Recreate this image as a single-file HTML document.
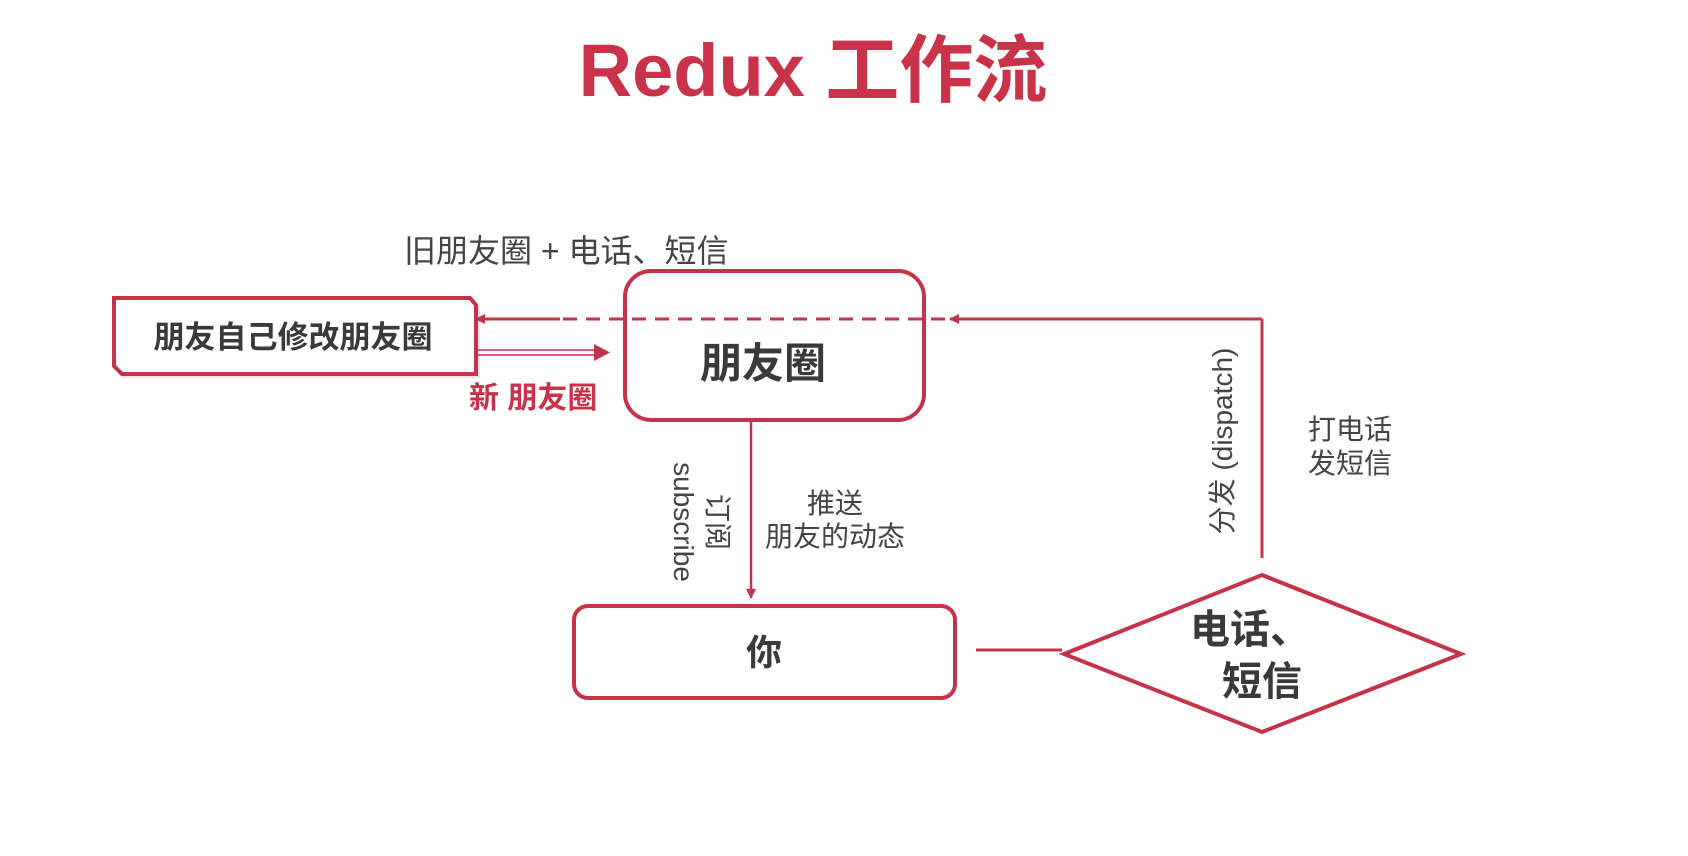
<!DOCTYPE html>
<html><head><meta charset="utf-8"><style>
html,body{margin:0;padding:0;background:#fff;}
svg{display:block;}
text{font-family:"Liberation Sans","Noto Sans CJK SC",sans-serif;}
</style></head><body>
<svg width="1688" height="856" viewBox="0 0 1688 856" xmlns="http://www.w3.org/2000/svg">
<defs>
<marker id="ah" markerWidth="10" markerHeight="10" refX="9" refY="5" orient="auto" markerUnits="userSpaceOnUse">
<path d="M0,0 L10,5 L0,10 z" fill="#c4334a"/></marker>
<marker id="ah2" markerWidth="16" markerHeight="16" refX="15" refY="8" orient="auto" markerUnits="userSpaceOnUse">
<path d="M0,0 L16,8 L0,16 z" fill="#c4334a"/></marker>
</defs>
<rect width="1688" height="856" fill="#fff"/>
<text x="813" y="96" text-anchor="middle" font-size="74" font-weight="bold" fill="#c8334a">Redux 工作流</text>

<text x="404" y="262" font-size="32" fill="#444">旧朋友圈 + 电话、短信</text>

<!-- dashed / solid top connector -->
<line x1="1262" y1="319" x2="950" y2="319" stroke="#c4334a" stroke-width="3" marker-end="url(#ah)"/>
<line x1="945" y1="319" x2="560" y2="319" stroke="#c4334a" stroke-width="3" stroke-dasharray="14,9"/>
<line x1="560" y1="319" x2="476" y2="319" stroke="#c4334a" stroke-width="3" marker-end="url(#ah)"/>
<line x1="1262" y1="319" x2="1262" y2="558" stroke="#c4334a" stroke-width="3"/>

<!-- left box -->
<path d="M114,298 L470,298 L476,305 L476,374 L122,374 L114,366 Z" fill="#fff" stroke="#c4334a" stroke-width="4" transform="translate(2,2)" opacity="0.15"/>
<path d="M114,298 L470,298 L476,305 L476,374 L122,374 L114,366 Z" fill="#fff" stroke="#c4334a" stroke-width="4"/>
<text x="293" y="348" text-anchor="middle" font-size="31" font-weight="bold" fill="#3a3a3a">朋友自己修改朋友圈</text>

<!-- double arrow -->
<line x1="476" y1="350" x2="596" y2="350" stroke="#c4334a" stroke-width="1.5"/>
<line x1="476" y1="355" x2="596" y2="355" stroke="#c4334a" stroke-width="1.5"/>
<path d="M594,344 L610,352.5 L594,361 z" fill="#c4334a"/>
<text x="469" y="408" font-size="30" font-weight="bold" fill="#c8334a">新 朋友圈</text>

<!-- 朋友圈 box -->
<rect x="625" y="271" width="299" height="149" rx="26" fill="none" stroke="#c4334a" stroke-width="4"/>
<text x="763" y="378" text-anchor="middle" font-size="42" font-weight="bold" fill="#3a3a3a">朋友圈</text>

<!-- down arrow -->
<line x1="751" y1="422" x2="751" y2="598" stroke="#c4334a" stroke-width="2.5" marker-end="url(#ah)"/>
<text x="835" y="513" text-anchor="middle" font-size="28" fill="#444">推送</text>
<text x="835" y="546" text-anchor="middle" font-size="28" fill="#444">朋友的动态</text>
<text transform="translate(708,522) rotate(90)" text-anchor="middle" font-size="28" fill="#444">订阅</text>
<text transform="translate(674,522) rotate(90)" text-anchor="middle" font-size="28" fill="#444">subscribe</text>

<text transform="translate(1232,441) rotate(-90)" text-anchor="middle" font-size="28" fill="#444">分发 (dispatch)</text>
<text x="1350" y="439" text-anchor="middle" font-size="28" fill="#444">打电话</text>
<text x="1350" y="473" text-anchor="middle" font-size="28" fill="#444">发短信</text>

<!-- 你 box -->
<rect x="574" y="606" width="381" height="92" rx="14" fill="none" stroke="#c4334a" stroke-width="4"/>
<text x="764" y="665" text-anchor="middle" font-size="36" font-weight="bold" fill="#3a3a3a">你</text>

<line x1="976" y1="650" x2="1062" y2="650" stroke="#c4334a" stroke-width="3"/>

<!-- diamond -->
<path d="M1262,575 L1461,654 L1262,732 L1064,654 Z" fill="#fff" stroke="#c4334a" stroke-width="4"/>
<text x="1250" y="643" text-anchor="middle" font-size="40" font-weight="bold" fill="#3a3a3a">电话、</text>
<text x="1262" y="695" text-anchor="middle" font-size="40" font-weight="bold" fill="#3a3a3a">短信</text>
</svg>
</body></html>
